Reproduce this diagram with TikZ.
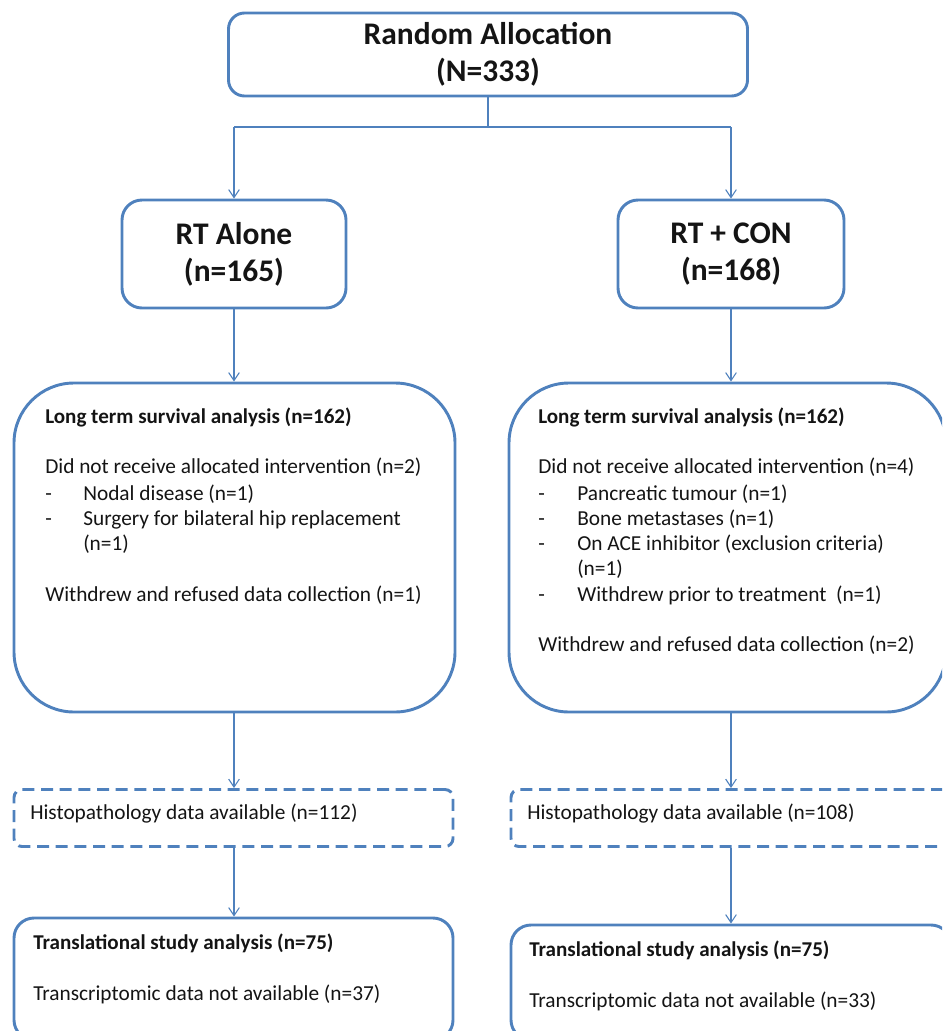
\documentclass[tikz,border=0pt]{standalone}
\usepackage{fontspec}
\setmainfont{Carlito}
\usetikzlibrary{arrows.meta}
\definecolor{bl}{RGB}{79,129,189}
\definecolor{txt}{RGB}{20,20,20}
\tikzset{
  box/.style={draw=bl, line width=2.2pt, rounded corners=#1, inner sep=0pt},
  box/.default=12pt,
  dbox/.style={draw=bl, line width=2.2pt, rounded corners=6pt, dash pattern=on 9pt off 5pt, inner sep=0pt},
  arr/.style={draw=bl, line width=0.8pt, -{Straight Barb[length=6pt,width=8pt]}},
  ln/.style={draw=bl, line width=0.8pt},
  big/.style={font=\fontsize{23.6}{27.75}\selectfont\bfseries, text=txt, align=center},
  body/.style={font=\fontsize{16}{18.75}\selectfont, text=txt, anchor=west, inner sep=0pt, text height=11pt, text depth=3.5pt},
  bodyb/.style={font=\fontsize{15.8}{18.75}\selectfont\bfseries, text=txt, anchor=west, inner sep=0pt, text height=11pt, text depth=3.5pt},
}
\begin{document}
\begin{tikzpicture}[x=0.75pt,y=-0.75pt]
\useasboundingbox (0,0) rectangle (942,1031);
\clip (0,0) rectangle (942,1031);
% top
\node[box=12pt, big, minimum width=519*0.75pt, minimum height=83*0.75pt] (top) at (488,54.5) {Random Allocation\\(N=333)};
\node[box=15pt, big, minimum width=224*0.75pt, minimum height=108*0.75pt] (rt1) at (234,254) {RT Alone\\(n=165)};
\node[box=15pt, big, minimum width=226*0.75pt, minimum height=108*0.75pt] (rt2) at (731,254) {RT + CON\\(n=168)};
\coordinate (j) at (488,127);
\coordinate (jl) at (234,127);
\coordinate (jr) at (731,127);
\draw[ln] (top.south) -- (j);
\draw[ln] (jl) -- (jr);
\draw[arr] (jl) -- (rt1.north);
\draw[arr] (jr) -- (rt2.north);
% long term boxes
\node[box=45pt, minimum width=441*0.75pt, minimum height=329*0.75pt] (lt1) at (234.5,547.5) {};
\node[box=45pt, minimum width=437*0.75pt, minimum height=329*0.75pt] (lt2) at (727.5,547.5) {};
\draw[arr] (rt1.south) -- (rt1.south |- lt1.north);
\draw[arr] (rt2.south) -- (rt2.south |- lt2.north);
% left text
\node[bodyb] (l1) at (45,418) {Long term survival analysis (n=162)};
\node[body] (l2) at (45,468) {Did not receive allocated intervention (n=2)};
\node[body] (l3a) at (45,495) {-};
\node[body] (l3) at (83,495) {Nodal disease (n=1)};
\node[body] (l4a) at (45,520) {-};
\node[body] (l4) at (83,520) {Surgery for bilateral hip replacement};
\node[body] (l5) at (83,545) {(n=1)};
\node[body] (l6) at (45,596) {Withdrew and refused data collection (n=1)};
% right text
\node[bodyb] (r1) at (538,418) {Long term survival analysis (n=162)};
\node[body] (r2) at (538,468) {Did not receive allocated intervention (n=4)};
\node[body] (r3a) at (538,495) {-};
\node[body] (r3) at (577,495) {Pancreatic tumour (n=1)};
\node[body] (r4a) at (538,520) {-};
\node[body] (r4) at (577,520) {Bone metastases (n=1)};
\node[body] (r5a) at (538,545) {-};
\node[body] (r5) at (577,545) {On ACE inhibitor (exclusion criteria)};
\node[body] (r6) at (577,570) {(n=1)};
\node[body] (r7a) at (538,596) {-};
\node[body] (r7) at (577,596) {Withdrew prior to treatment\ \ (n=1)};
\node[body] (r8) at (538,646) {Withdrew and refused data collection (n=2)};
% dashed boxes
\node[dbox, minimum width=439*0.75pt, minimum height=57*0.75pt] (h1) at (233.5,818) {};
\node[dbox, minimum width=440*0.75pt, minimum height=57*0.75pt] (h2) at (731,818) {};
\draw[arr] (lt1.south -| rt1.south) -- (rt1.south |- h1.north);
\draw[arr] (lt2.south -| rt2.south) -- (rt2.south |- h2.north);
\node[body] (h1t) at (30,814) {Histopathology data available (n=112)};
\node[body] (h2t) at (527,814) {Histopathology data available (n=108)};
% bottom boxes
\node[box=15pt, minimum width=439*0.75pt, minimum height=122*0.75pt] (b1) at (233.5,979) {};
\node[box=15pt, minimum width=440*0.75pt, minimum height=115*0.75pt] (b2) at (731,982.5) {};
\draw[arr] (h1.south -| rt1.south) -- (rt1.south |- b1.north);
\draw[arr] (h2.south -| rt2.south) -- (rt2.south |- b2.north);
\node[bodyb] (b1a) at (33,944) {Translational study analysis (n=75)};
\node[body] (b1b) at (33,995) {Transcriptomic data not available (n=37)};
\node[bodyb] (b2a) at (529,951) {Translational study analysis (n=75)};
\node[body] (b2b) at (529,1002) {Transcriptomic data not available (n=33)};
\end{tikzpicture}
\end{document}
